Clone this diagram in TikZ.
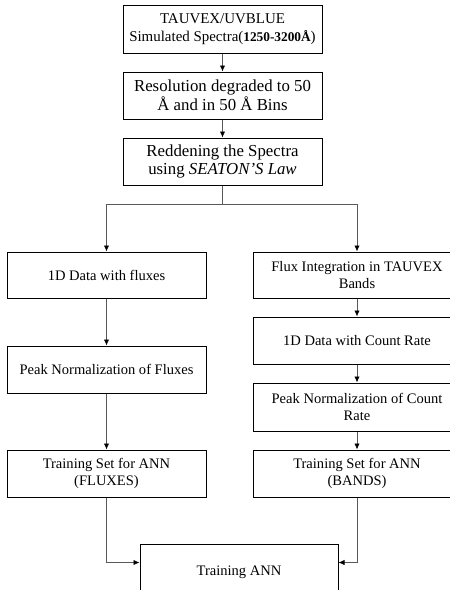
\documentclass[tikz,border=0pt]{standalone}
\usepackage{fontspec}
\setmainfont{Liberation Serif}
\usetikzlibrary{arrows.meta,calc}
\tikzset{
	stepbox/.style={draw=black, line width=0.75pt, align=center, inner sep=2pt},
	arr/.style={draw=black!65, line width=0.6pt, -{Latex[length=4.5pt,width=4pt,black]}}
}
\begin{document}
\begin{tikzpicture}[x=0.75pt,y=-0.75pt]
			\useasboundingbox (0,0) rectangle (450,590);
			% main column
			\node[stepbox, minimum width=149.25pt, minimum height=36pt, font=\fontsize{11.2}{14}\selectfont] (sim) at (222.5,29)
				{TAUVEX/UVBLUE\\Simulated Spectra({\bfseries\fontsize{10}{12}\selectfont 1250-3200Å})};
			\node[stepbox, minimum width=149.25pt, minimum height=35.25pt, font=\fontsize{12.6}{12.8}\selectfont] (res) at (222.5,95.5)
				{Resolution degraded to 50\\Å and in 50 Å Bins};
			\node[stepbox, minimum width=149.25pt, minimum height=35.25pt, font=\fontsize{12.6}{13.5}\selectfont] (red) at (222.5,161.5)
				{Reddening the Spectra\\using \textit{SEATON'S Law}};
			% left column
			\node[stepbox, minimum width=149.25pt, minimum height=34.5pt, font=\fontsize{10.9}{13}\selectfont] (flx) at (106.5,275)
				{1D Data with fluxes};
			\node[stepbox, minimum width=149.25pt, minimum height=35.25pt, font=\fontsize{10.9}{13}\selectfont] (pkf) at (106.5,369.5)
				{Peak Normalization of Fluxes};
			\node[stepbox, minimum width=149.25pt, minimum height=35.25pt, font=\fontsize{10.9}{13}\selectfont] (tsf) at (106.5,473.5)
				{Training Set for ANN\\(FLUXES)};
			% right column
			\node[stepbox, minimum width=156pt, minimum height=34.5pt, font=\fontsize{10.9}{13}\selectfont] (int) at (357,275)
				{Flux Integration in TAUVEX\\Bands};
			\node[stepbox, minimum width=156pt, minimum height=35.25pt, font=\fontsize{10.9}{13}\selectfont] (cnt) at (357,340.5)
				{1D Data with Count Rate};
			\node[stepbox, minimum width=156pt, minimum height=36pt, font=\fontsize{10.9}{13}\selectfont] (pkc) at (357,407)
				{Peak Normalization of Count\\Rate};
			\node[stepbox, minimum width=156pt, minimum height=35.25pt, font=\fontsize{10.9}{13}\selectfont] (tsb) at (357,473.5)
				{Training Set for ANN\\(BANDS)};
			% bottom
			\node[stepbox, minimum width=148.5pt, minimum height=42pt, font=\fontsize{10.9}{13}\selectfont] (ann) at (239,572)
				{Training ANN};
			% connectors
			\draw[arr] (sim) -- (res);
			\draw[arr] (res) -- (red);
			\draw[arr] (red.south) -- ++(0,19) -| (flx.north);
			\draw[arr] (red.south) -- ++(0,19) -| (int.north);
			\draw[arr] (flx) -- (pkf);
			\draw[arr] (pkf) -- (tsf);
			\draw[arr] (int) -- (cnt);
			\draw[arr] (cnt) -- (pkc);
			\draw[arr] (pkc) -- (tsb);
			\draw[arr] (tsf.south) |- ($(ann.north west)+(0,19)$);
			\draw[arr] (tsb.south) |- ($(ann.north east)+(0,19)$);
\end{tikzpicture}
\end{document}
